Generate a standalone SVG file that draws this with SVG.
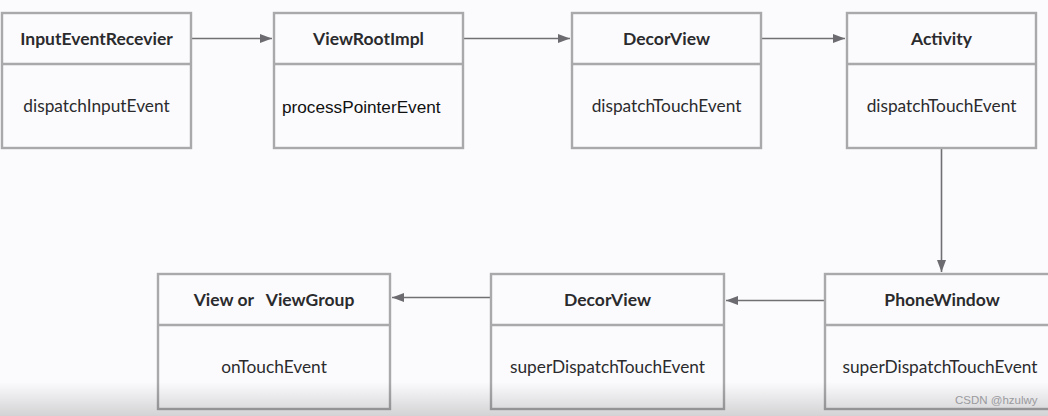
<svg xmlns="http://www.w3.org/2000/svg" width="1048" height="416" viewBox="0 0 1048 416">
<style>
.box{fill:#fbfbfd;stroke:#a9a9ac;stroke-width:2.4}
.div{stroke:#a9a9ac;stroke-width:2.4}
.t{font-family:Lato,"Noto Sans",sans-serif;font-weight:bold;font-size:17.5px;fill:#2b2b2e;text-anchor:middle}
.m{font-family:Lato,"Noto Sans",sans-serif;font-size:17.3px;fill:#2b2b2e;text-anchor:middle}
.c{stroke:#707074;stroke-width:1.6;fill:none;marker-end:url(#ah)}
</style>
<defs>
<marker id="ah" markerWidth="12" markerHeight="10" refX="12" refY="5" orient="auto" markerUnits="userSpaceOnUse">
<path d="M0,0.5 L12,5 L0,9.5 Z" fill="#6b6b70"/>
</marker>
<linearGradient id="shade" x1="0" y1="0" x2="0" y2="1">
<stop offset="0" stop-color="#000" stop-opacity="0"/>
<stop offset="1" stop-color="#000" stop-opacity="0.16"/>
</linearGradient>
</defs>
<rect width="1048" height="416" fill="#fbfbfd"/>
<g id="connectors">
<line class="c" x1="191" y1="38.5" x2="272" y2="38.5"/>
<line class="c" x1="463" y1="38.5" x2="570" y2="38.5"/>
<line class="c" x1="761" y1="38.5" x2="845" y2="38.5"/>
<line class="c" x1="941.5" y1="149" x2="941.5" y2="272"/>
<line class="c" x1="825" y1="300.5" x2="726" y2="300.5"/>
<line class="c" x1="491" y1="297.5" x2="392" y2="297.5"/>
</g>
<g id="n1">
<rect class="box" x="2" y="13" width="189" height="135"/>
<line class="div" x1="2" y1="64" x2="191" y2="64"/>
<text class="t" x="96.5" y="45">InputEventRecevier</text>
<text class="m" x="96.5" y="112">dispatchInputEvent</text>
</g>
<g id="n2">
<rect class="box" x="274" y="13" width="189" height="135"/>
<line class="div" x1="274" y1="64" x2="463" y2="64"/>
<text class="t" x="368.5" y="45">ViewRootImpl</text>
<text x="282" y="113" style="font-family:'Liberation Sans',Arial,sans-serif;font-size:17.2px;fill:#111">processPointerEvent</text>
</g>
<g id="n3">
<rect class="box" x="572" y="13" width="189" height="135"/>
<line class="div" x1="572" y1="64" x2="761" y2="64"/>
<text class="t" x="666.5" y="45">DecorView</text>
<text class="m" x="666.5" y="112">dispatchTouchEvent</text>
</g>
<g id="n4">
<rect class="box" x="847" y="13" width="189" height="135"/>
<line class="div" x1="847" y1="64" x2="1036" y2="64"/>
<text class="t" x="941.5" y="45">Activity</text>
<text class="m" x="941.5" y="112">dispatchTouchEvent</text>
</g>
<g id="n5">
<rect class="box" x="158" y="274" width="232" height="135"/>
<line class="div" x1="158" y1="325" x2="390" y2="325"/>
<text class="t" x="274" y="306" xml:space="preserve">View or   ViewGroup</text>
<text class="m" x="274" y="373">onTouchEvent</text>
</g>
<g id="n6">
<rect class="box" x="491" y="274" width="233" height="135"/>
<line class="div" x1="491" y1="325" x2="724" y2="325"/>
<text class="t" x="607.5" y="306">DecorView</text>
<text class="m" x="607.5" y="373">superDispatchTouchEvent</text>
</g>
<g id="n7">
<rect class="box" x="825" y="274" width="240" height="135"/>
<line class="div" x1="825" y1="325" x2="1065" y2="325"/>
<text class="t" x="942" y="306">PhoneWindow</text>
<text class="m" x="940" y="373">superDispatchTouchEvent</text>
</g>
<rect x="0" y="382" width="1048" height="34" fill="url(#shade)"/>
<text x="955" y="404" style="font-family:'Liberation Sans',Arial,sans-serif;font-size:11.5px;fill:#9a9a9e">CSDN @hzulwy</text>
</svg>
